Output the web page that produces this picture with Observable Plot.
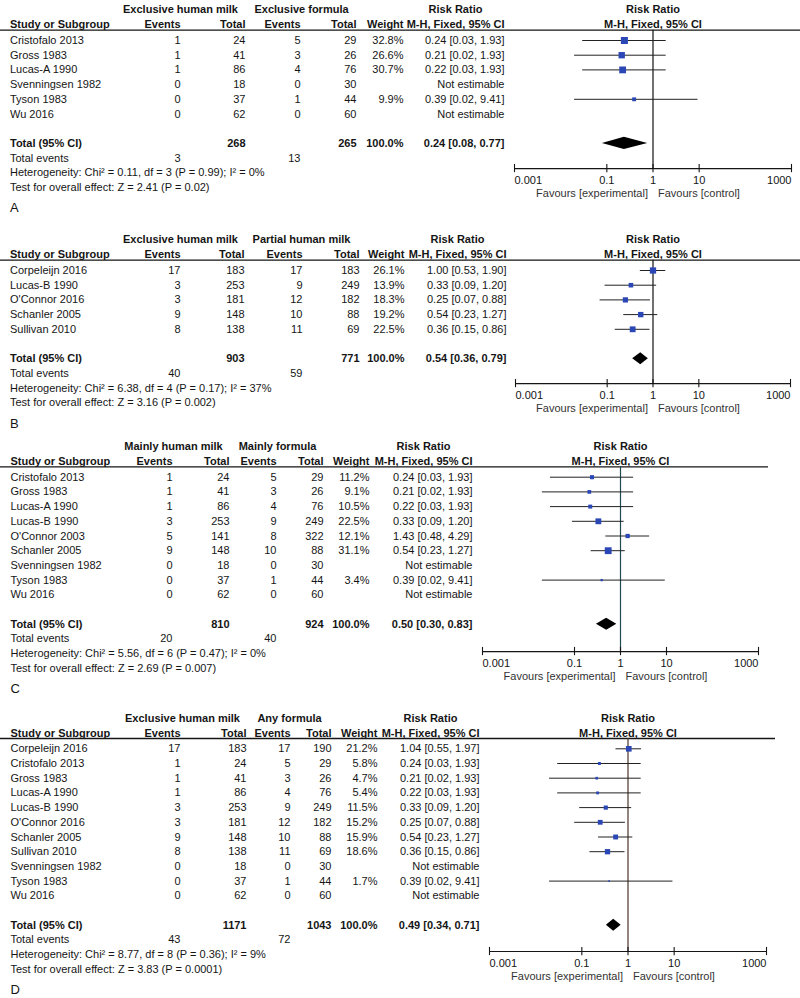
<!DOCTYPE html>
<html>
<head>
<meta charset="utf-8">
<script src="https://cdn.jsdelivr.net/npm/d3@7"></script>
<script src="https://cdn.jsdelivr.net/npm/@observablehq/plot@0.6"></script>
<style>
  html, body { margin: 0; padding: 0; background: #fff; }
  #fig { position: relative; width: 800px; height: 998px; overflow: hidden; }
  .panel { position: absolute; left: 0; width: 800px; }
  .panel svg { position: absolute; left: 0; top: 0; background: transparent !important; }
</style>
</head>
<body>
<div id="fig"></div>
<script>
// ---------------- DATA ----------------
// Axis
const axisTicks = [0.001, 0.1, 1, 10, 1000];
const axisTickLabels = ["0.001", "0.1", "1", "10", "1000"];

// Panel A
const groupsA = ["Exclusive human milk", "Exclusive formula"];
const studiesA = ["Cristofalo 2013", "Gross 1983", "Lucas-A 1990", "Svenningsen 1982", "Tyson 1983", "Wu 2016"];
const expEventsA = [1, 1, 1, 0, 0, 0];
const expTotalA = [24, 41, 86, 18, 37, 62];
const ctlEventsA = [5, 3, 4, 0, 1, 0];
const ctlTotalA = [29, 26, 76, 30, 44, 60];
const weightA = [32.8, 26.6, 30.7, null, 9.9, null];
const rrA = [0.24, 0.21, 0.22, null, 0.39, null];
const lowerA = [0.03, 0.02, 0.03, null, 0.02, null];
const upperA = [1.93, 1.93, 1.93, null, 9.41, null];
const totalsA = [268, 265];
const totalEventsA = [3, 13];
const pooledA = [0.24, 0.08, 0.77];
const hetA = "Heterogeneity: Chi² = 0.11, df = 3 (P = 0.99); I² = 0%";
const overallA = "Test for overall effect: Z = 2.41 (P = 0.02)";

// Panel B
const groupsB = ["Exclusive human milk", "Partial human milk"];
const studiesB = ["Corpeleijn 2016", "Lucas-B 1990", "O'Connor 2016", "Schanler 2005", "Sullivan 2010"];
const expEventsB = [17, 3, 3, 9, 8];
const expTotalB = [183, 253, 181, 148, 138];
const ctlEventsB = [17, 9, 12, 10, 11];
const ctlTotalB = [183, 249, 182, 88, 69];
const weightB = [26.1, 13.9, 18.3, 19.2, 22.5];
const rrB = [1.00, 0.33, 0.25, 0.54, 0.36];
const lowerB = [0.53, 0.09, 0.07, 0.23, 0.15];
const upperB = [1.90, 1.20, 0.88, 1.27, 0.86];
const totalsB = [903, 771];
const totalEventsB = [40, 59];
const pooledB = [0.54, 0.36, 0.79];
const hetB = "Heterogeneity: Chi² = 6.38, df = 4 (P = 0.17); I² = 37%";
const overallB = "Test for overall effect: Z = 3.16 (P = 0.002)";

// Panel C
const groupsC = ["Mainly human milk", "Mainly formula"];
const studiesC = ["Cristofalo 2013", "Gross 1983", "Lucas-A 1990", "Lucas-B 1990", "O'Connor 2003", "Schanler 2005", "Svenningsen 1982", "Tyson 1983", "Wu 2016"];
const expEventsC = [1, 1, 1, 3, 5, 9, 0, 0, 0];
const expTotalC = [24, 41, 86, 253, 141, 148, 18, 37, 62];
const ctlEventsC = [5, 3, 4, 9, 8, 10, 0, 1, 0];
const ctlTotalC = [29, 26, 76, 249, 322, 88, 30, 44, 60];
const weightC = [11.2, 9.1, 10.5, 22.5, 12.1, 31.1, null, 3.4, null];
const rrC = [0.24, 0.21, 0.22, 0.33, 1.43, 0.54, null, 0.39, null];
const lowerC = [0.03, 0.02, 0.03, 0.09, 0.48, 0.23, null, 0.02, null];
const upperC = [1.93, 1.93, 1.93, 1.20, 4.29, 1.27, null, 9.41, null];
const totalsC = [810, 924];
const totalEventsC = [20, 40];
const pooledC = [0.50, 0.30, 0.83];
const hetC = "Heterogeneity: Chi² = 5.56, df = 6 (P = 0.47); I² = 0%";
const overallC = "Test for overall effect: Z = 2.69 (P = 0.007)";

// Panel D
const groupsD = ["Exclusive human milk", "Any formula"];
const studiesD = ["Corpeleijn 2016", "Cristofalo 2013", "Gross 1983", "Lucas-A 1990", "Lucas-B 1990", "O'Connor 2016", "Schanler 2005", "Sullivan 2010", "Svenningsen 1982", "Tyson 1983", "Wu 2016"];
const expEventsD = [17, 1, 1, 1, 3, 3, 9, 8, 0, 0, 0];
const expTotalD = [183, 24, 41, 86, 253, 181, 148, 138, 18, 37, 62];
const ctlEventsD = [17, 5, 3, 4, 9, 12, 10, 11, 0, 1, 0];
const ctlTotalD = [190, 29, 26, 76, 249, 182, 88, 69, 30, 44, 60];
const weightD = [21.2, 5.8, 4.7, 5.4, 11.5, 15.2, 15.9, 18.6, null, 1.7, null];
const rrD = [1.04, 0.24, 0.21, 0.22, 0.33, 0.25, 0.54, 0.36, null, 0.39, null];
const lowerD = [0.55, 0.03, 0.02, 0.03, 0.09, 0.07, 0.23, 0.15, null, 0.02, null];
const upperD = [1.97, 1.93, 1.93, 1.93, 1.20, 0.88, 1.27, 0.86, null, 9.41, null];
const totalsD = [1171, 1043];
const totalEventsD = [43, 72];
const pooledD = [0.49, 0.34, 0.71];
const hetD = "Heterogeneity: Chi² = 8.77, df = 8 (P = 0.36); I² = 9%";
const overallD = "Test for overall effect: Z = 3.83 (P = 0.0001)";

// ---------------- LAYOUT ----------------
const FONT = '"Liberation Sans", Arial, Helvetica, sans-serif';
const INK = "#151515";
const BLUE = "#2b47b5";
const ROW_H = 14.7;

const panels = [
  { label: "A", groups: groupsA, studies: studiesA, expEvents: expEventsA, expTotal: expTotalA, ctlEvents: ctlEventsA, ctlTotal: ctlTotalA,
    weight: weightA, rr: rrA, lower: lowerA, upper: upperA, totals: totalsA, totalEvents: totalEventsA, pooled: pooledA, het: hetA, overall: overallA,
    layout: { top: 0, height: 222, first: 40, cols: { study: 9.5, ev1: 180, tot1: 245, ev2: 300, tot2: 356, weight: 403, rr: 504 },
              grp: [180, 301], forest: [514, 791], lineEnd: 800, axisRow: 8.71, oneColor: "#111" } },
  { label: "B", groups: groupsB, studies: studiesB, expEvents: expEventsB, expTotal: expTotalB, ctlEvents: ctlEventsB, ctlTotal: ctlTotalB,
    weight: weightB, rr: rrB, lower: lowerB, upper: upperB, totals: totalsB, totalEvents: totalEventsB, pooled: pooledB, het: hetB, overall: overallB,
    layout: { top: 222, height: 215, first: 270, cols: { study: 9.5, ev1: 180, tot1: 244, ev2: 302, tot2: 359, weight: 404, rr: 506 },
              grp: [180, 301], forest: [515, 790], lineEnd: 800, axisRow: 7.69, oneColor: "#111" } },
  { label: "C", groups: groupsC, studies: studiesC, expEvents: expEventsC, expTotal: expTotalC, ctlEvents: ctlEventsC, ctlTotal: ctlTotalC,
    weight: weightC, rr: rrC, lower: lowerC, upper: upperC, totals: totalsC, totalEvents: totalEventsC, pooled: pooledC, het: hetC, overall: overallC,
    layout: { top: 437, height: 268, first: 476.7, cols: { study: 10, ev1: 172, tot1: 229, ev2: 276, tot2: 323, weight: 369, rr: 472 },
              grp: [173, 277], forest: [482, 758], lineEnd: 768, axisRow: 11.86, oneColor: "#1f4a52" } },
  { label: "D", groups: groupsD, studies: studiesD, expEvents: expEventsD, expTotal: expTotalD, ctlEvents: ctlEventsD, ctlTotal: ctlTotalD,
    weight: weightD, rr: rrD, lower: lowerD, upper: upperD, totals: totalsD, totalEvents: totalEventsD, pooled: pooledD, het: hetD, overall: overallD,
    layout: { top: 705, height: 293, first: 748.3, cols: { study: 10, ev1: 180, tot1: 246, ev2: 290, tot2: 331, weight: 377, rr: 479 },
              grp: [182, 289], forest: [489, 766], lineEnd: 775, axisRow: 13.79, oneColor: "#4a3328" } }
];

const fmtRR = (e, l, u) => `${e.toFixed(2)} [${l.toFixed(2)}, ${u.toFixed(2)}]`;

function textMarks(cells) {
  const groups = d3.groups(cells, c => `${c.anchor}|${c.bold ? 1 : 0}|${c.size}`);
  return groups.map(([k, arr]) => {
    const [anchor, bold, size] = k.split("|");
    return Plot.text(arr, {
      x: "x", y: "y", text: "text", textAnchor: anchor,
      fontWeight: bold === "1" ? "bold" : "normal", fontSize: +size, fill: INK
    });
  });
}

function renderPanel(P) {
  const L = P.layout, C = L.cols;
  const n = P.studies.length;
  const totalRow = n + 1;
  const y0 = L.first - L.top;
  const yScale = () => ({ type: "linear", domain: [0, 1], range: [y0, y0 + ROW_H], axis: null });
  const H1 = -2.08, H2 = -1.07, LINE = -0.7;

  // ---- table (text) ----
  const cells = [];
  const add = (x, y, text, anchor, bold = false, size = 11) => cells.push({ x, y, text, anchor, bold, size });
  add(L.grp[0], H1, P.groups[0], "middle", true);
  add(L.grp[1], H1, P.groups[1], "middle", true);
  add(C.rr - 49, H1, "Risk Ratio", "middle", true);
  add(C.study, H2, "Study or Subgroup", "start", true);
  add(C.ev1, H2, "Events", "end", true);
  add(C.tot1, H2, "Total", "end", true);
  add(C.ev2, H2, "Events", "end", true);
  add(C.tot2, H2, "Total", "end", true);
  add(C.weight, H2, "Weight", "end", true);
  add(C.rr, H2, "M-H, Fixed, 95% CI", "end", true);
  P.studies.forEach((s, i) => {
    add(C.study, i, s, "start");
    add(C.ev1, i, String(P.expEvents[i]), "end");
    add(C.tot1, i, String(P.expTotal[i]), "end");
    add(C.ev2, i, String(P.ctlEvents[i]), "end");
    add(C.tot2, i, String(P.ctlTotal[i]), "end");
    if (P.weight[i] != null) add(C.weight, i, P.weight[i].toFixed(1) + "%", "end");
    add(C.rr, i, P.rr[i] != null ? fmtRR(P.rr[i], P.lower[i], P.upper[i]) : "Not estimable", "end");
  });
  add(C.study, totalRow, "Total (95% CI)", "start", true);
  add(C.tot1, totalRow, String(P.totals[0]), "end", true);
  add(C.tot2, totalRow, String(P.totals[1]), "end", true);
  add(C.weight, totalRow, "100.0%", "end", true);
  add(C.rr, totalRow, fmtRR(P.pooled[0], P.pooled[1], P.pooled[2]), "end", true);
  add(C.study, totalRow + 1, "Total events", "start");
  add(C.ev1, totalRow + 1, String(P.totalEvents[0]), "end");
  add(C.ev2, totalRow + 1, String(P.totalEvents[1]), "end");
  add(C.study, totalRow + 2, P.het, "start");
  add(C.study, totalRow + 3, P.overall, "start");
  add(C.study, totalRow + 4.4, P.label, "start", false, 13);

  const table = Plot.plot({
    width: 800, height: L.height, margin: 0,
    style: { background: "transparent", fontFamily: FONT, overflow: "visible" },
    x: { type: "linear", domain: [0, 800], range: [0, 800], axis: null },
    y: yScale(),
    marks: [
      Plot.ruleY([LINE], { y: d => d, x1: 0, x2: L.lineEnd, stroke: INK, strokeWidth: 1.3 }),
      ...textMarks(cells)
    ]
  });

  // ---- forest ----
  const est = P.studies.map((s, i) => ({ i, rr: P.rr[i], lo: P.lower[i], hi: P.upper[i], w: P.weight[i] }))
                       .filter(d => d.rr != null);
  const dh = 0.41;
  const diamond = [
    { y: totalRow - dh, x1: P.pooled[0], x2: P.pooled[0] },
    { y: totalRow, x1: P.pooled[1], x2: P.pooled[2] },
    { y: totalRow + dh, x1: P.pooled[0], x2: P.pooled[0] }
  ];
  const ax = L.axisRow;
  const tickObjs = axisTicks.map((v, i) => ({ v, label: axisTickLabels[i] }));
  const tickText = (arr, anchor) => Plot.text(arr, { x: "v", y: () => ax, dy: 11.5, text: "label", textAnchor: anchor, fontSize: 11, fill: INK });

  const forest = Plot.plot({
    width: 800, height: L.height, margin: 0,
    style: { background: "transparent", fontFamily: FONT, overflow: "visible" },
    x: { type: "log", domain: [0.001, 1000], range: L.forest, axis: null },
    y: yScale(),
    r: { type: "sqrt", domain: [0, 35], range: [0, 4.1] },
    marks: [
      Plot.ruleX([1], { x: d => d, y1: LINE, y2: ax, stroke: L.oneColor, strokeWidth: 1.2 }),
      Plot.ruleY(est, { y: "i", x1: "lo", x2: "hi", stroke: "#222", strokeWidth: 1 }),
      Plot.dot(est, { x: "rr", y: "i", r: "w", symbol: "square", fill: BLUE, stroke: "none" }),
      Plot.areaX(diamond, { y: "y", x1: "x1", x2: "x2", fill: "#000" }),
      Plot.ruleY([ax], { y: d => d, x1: axisTicks[0], x2: axisTicks[axisTicks.length - 1], stroke: INK, strokeWidth: 1.2 }),
      Plot.ruleX(axisTicks, { x: d => d, y1: ax - 0.28, y2: ax + 0.28, stroke: INK, strokeWidth: 1.1 }),
      tickText(tickObjs.slice(0, 1), "start"),
      tickText(tickObjs.slice(1, -1), "middle"),
      tickText(tickObjs.slice(-1), "end"),
      Plot.text(["Favours [experimental]"], { x: () => 1, y: () => ax, dx: -5, dy: 25, text: d => d, textAnchor: "end", fontSize: 11, fill: "#333" }),
      Plot.text(["Favours [control]"], { x: () => 1, y: () => ax, dx: 5, dy: 25, text: d => d, textAnchor: "start", fontSize: 11, fill: "#333" }),
      Plot.text(["Risk Ratio"], { x: () => 1, y: () => H1, text: d => d, fontWeight: "bold", fontSize: 11, fill: INK }),
      Plot.text(["M-H, Fixed, 95% CI"], { x: () => 1, y: () => H2, text: d => d, fontWeight: "bold", fontSize: 11, fill: INK })
    ]
  });

  const div = document.createElement("div");
  div.className = "panel";
  div.style.top = L.top + "px";
  div.style.height = L.height + "px";
  div.appendChild(table);
  div.appendChild(forest);
  return div;
}

const fig = document.getElementById("fig");
panels.forEach(P => fig.appendChild(renderPanel(P)));
</script>
</body>
</html>
